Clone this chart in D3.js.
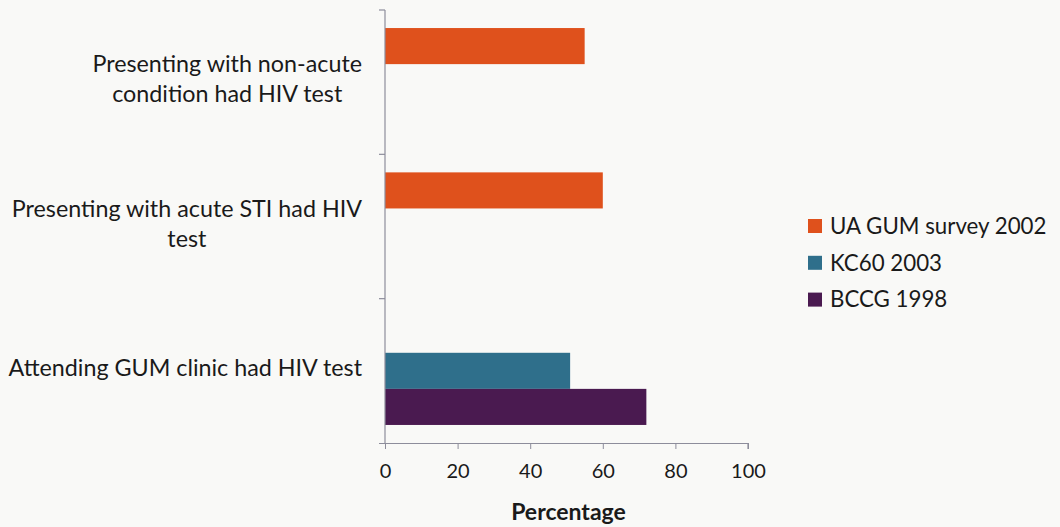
<!DOCTYPE html>
<html>
<head>
<meta charset="utf-8">
<script src="https://cdn.jsdelivr.net/npm/d3@7"></script>
<style>
  html, body { margin: 0; padding: 0; background: #f9f9f7; }
  svg { display: block; }
  text { font-family: Lato, "Open Sans", sans-serif; fill: #1a1a1a; }
</style>
</head>
<body>
<svg id="chart" width="1060" height="527"></svg>
<script>
// Categories, top to bottom
const categories = [
  ["Presenting with non-acute", "condition had HIV test"],
  ["Presenting with acute STI had HIV", "test"],
  ["Attending GUM clinic had HIV test"]
];
const seriesNames = ["UA GUM survey 2002", "KC60 2003", "BCCG 1998"];
const seriesColors = ["#df511c", "#2f6f8b", "#4a1a50"];
// Percentage values per series, one per category (null = no data)
const uaGum2002 = [55, 60, null];
const kc602003 = [null, null, 51];
const bccg1998 = [null, null, 72];
const xTicks = [0, 20, 40, 60, 80, 100];
const xTitle = "Percentage";

const seriesValues = [uaGum2002, kc602003, bccg1998];

const svg = d3.select("#chart");
const margin = { left: 385, top: 10, right: 313, bottom: 84 };
const W = 1060, H = 527;

const x = d3.scaleLinear().domain([0, 100]).range([margin.left, 748]);
const y = d3.scaleBand().domain(d3.range(categories.length))
  .range([margin.top, H - margin.bottom]).paddingInner(0).paddingOuter(0);
const ySub = d3.scaleBand().domain(d3.range(seriesNames.length))
  .range([0, y.bandwidth()]).paddingOuter(0.5).paddingInner(0);

const axisColor = "#8d8d9b";

// Bars
const g = svg.append("g");
seriesValues.forEach((vals, si) => {
  g.selectAll(null)
    .data(vals.map((v, ci) => ({ v, ci })).filter(d => d.v != null))
    .enter().append("rect")
    .attr("x", x(0))
    .attr("y", d => y(d.ci) + ySub(si))
    .attr("width", d => x(d.v) - x(0))
    .attr("height", ySub.bandwidth())
    .attr("fill", seriesColors[si]);
});

// X axis
const xAxis = svg.append("g")
  .attr("transform", `translate(0,${H - margin.bottom})`)
  .call(d3.axisBottom(x).tickValues(xTicks).tickSize(6).tickPadding(15).tickFormat(d3.format("d")));
xAxis.select(".domain").attr("stroke", axisColor).attr("stroke-width", 1.2)
  .attr("d", `M${x(0) - 6},0.5H${x(100)}V6`);
xAxis.selectAll(".tick line").attr("stroke", axisColor);
xAxis.selectAll(".tick text").attr("font-size", 20).attr("font-family", "Lato, sans-serif").attr("fill", "#1a1a1a");

// Y axis (category dividers)
const yEdges = d3.range(categories.length).map(i => y(i));
svg.append("line")
  .attr("x1", x(0)).attr("x2", x(0))
  .attr("y1", margin.top).attr("y2", H - margin.bottom)
  .attr("stroke", axisColor).attr("stroke-width", 1.2);
svg.selectAll(null).data(yEdges).enter().append("line")
  .attr("x1", x(0) - 6).attr("x2", x(0))
  .attr("y1", d => d).attr("y2", d => d)
  .attr("stroke", axisColor).attr("stroke-width", 1.2);

// Category labels: block right-aligned, lines centred within it
const labelRight = 362;
const lineH = 30;
categories.forEach((lines, ci) => {
  const cy = y(ci) + y.bandwidth() / 2 - 3;
  const t = svg.append("g");
  const texts = lines.map((ln, li) => t.append("text")
    .attr("font-size", 23.3)
    .attr("text-anchor", "middle")
    .attr("y", cy + (li - (lines.length - 1) / 2) * lineH)
    .attr("dy", "0.35em")
    .text(ln));
  const maxW = d3.max(texts, s => s.node().getComputedTextLength());
  texts.forEach(s => s.attr("x", labelRight - maxW / 2));
});

// X axis title
svg.append("text")
  .attr("x", (x(0) + x(100)) / 2 + 2)
  .attr("y", 512)
  .attr("dy", "0.35em")
  .attr("text-anchor", "middle")
  .attr("font-size", 23)
  .attr("font-weight", "bold")
  .text(xTitle);

// Legend
const legend = svg.append("g").attr("transform", "translate(808,226)");
seriesNames.forEach((name, i) => {
  const row = legend.append("g").attr("transform", `translate(0,${i * 36.8})`);
  row.append("rect").attr("x", 0).attr("y", -7).attr("width", 14).attr("height", 14)
    .attr("fill", seriesColors[i]);
  row.append("text").attr("x", 22).attr("dy", "0.35em").attr("font-size", 22.3).text(name);
});
</script>
</body>
</html>
